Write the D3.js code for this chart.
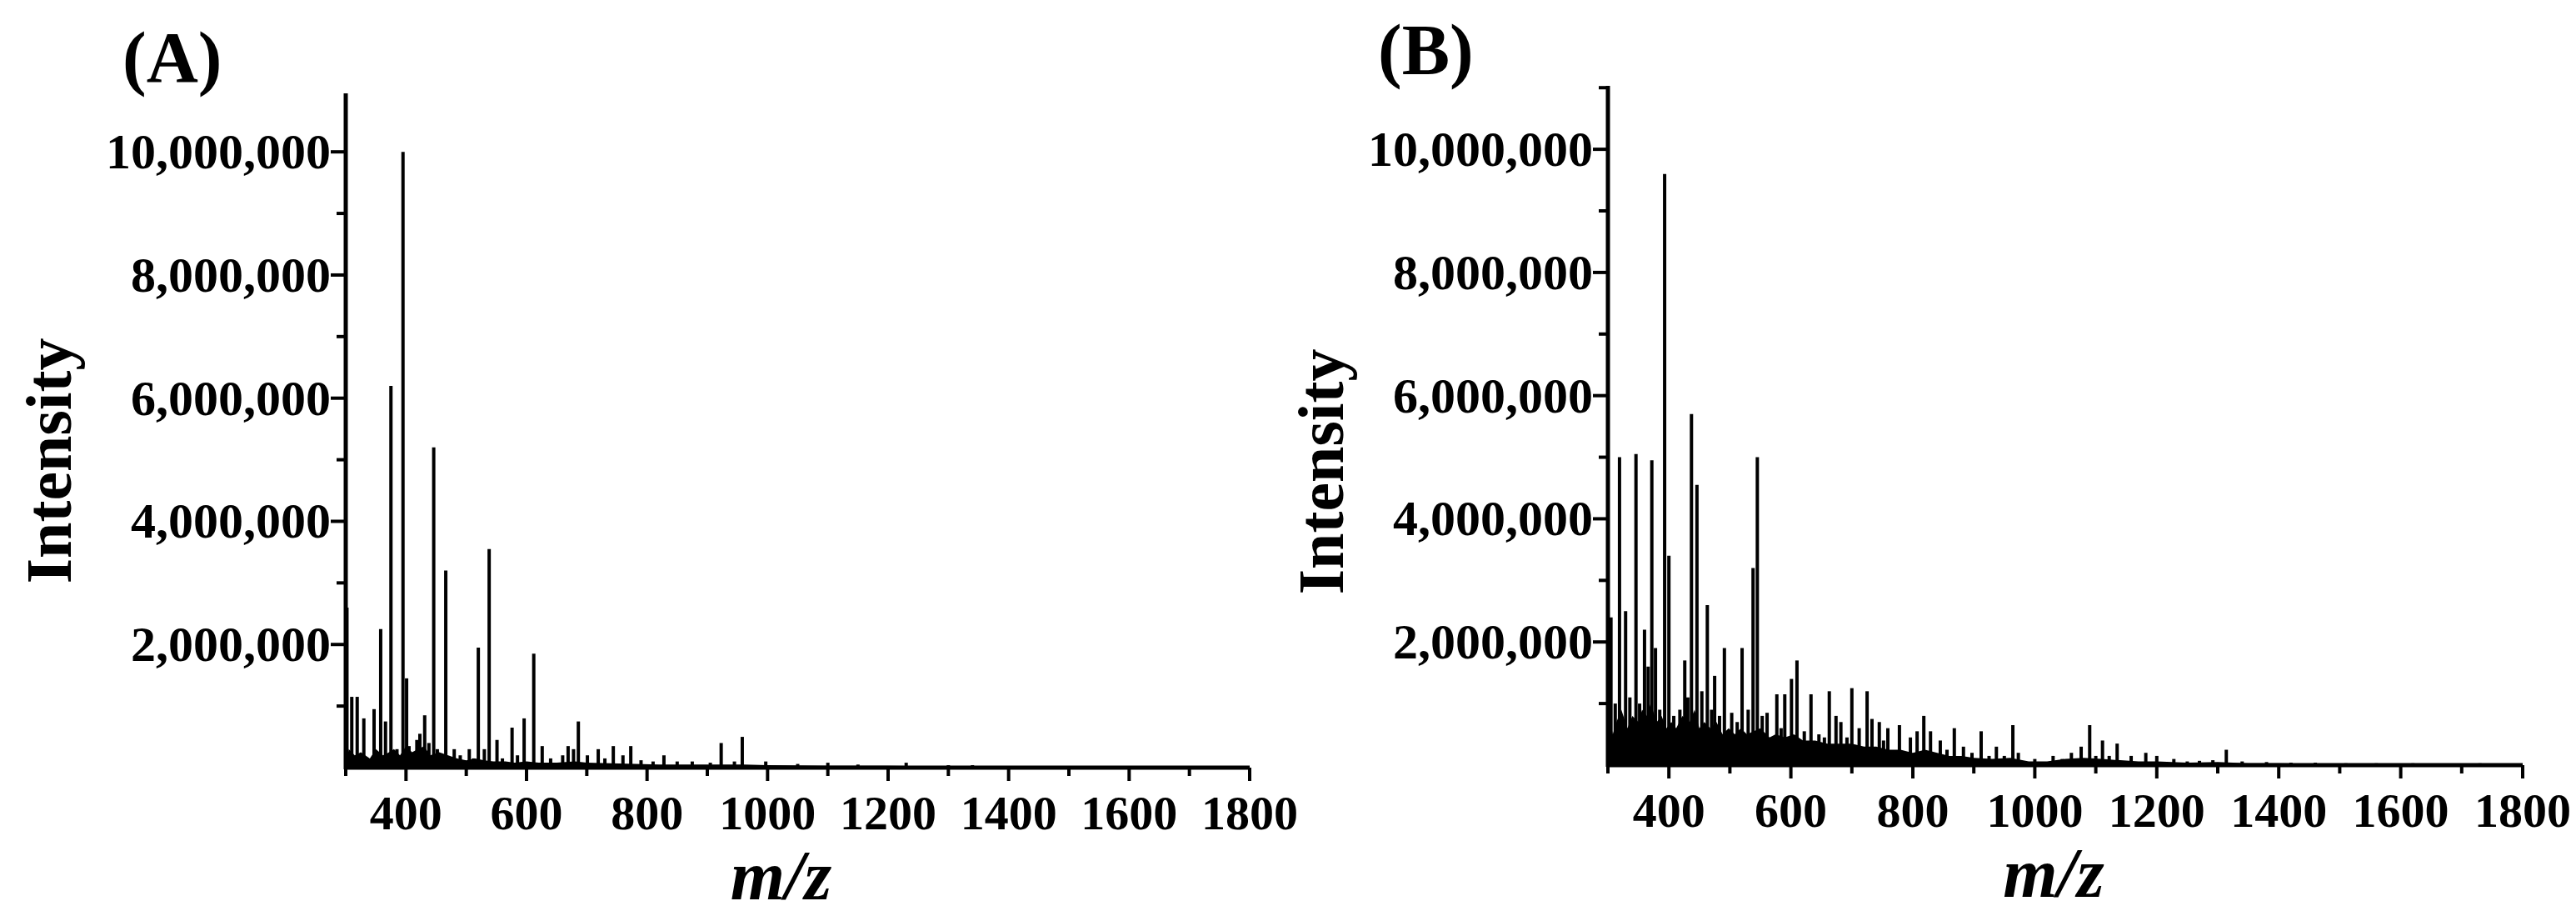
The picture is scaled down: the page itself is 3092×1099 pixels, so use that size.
<!DOCTYPE html>
<html><head><meta charset="utf-8">
<script src="https://cdn.jsdelivr.net/npm/d3@7"></script>
<style>body{margin:0;background:#fff}text{font-family:"Liberation Serif","Times New Roman",serif;font-weight:bold;fill:#000}</style>
</head><body><svg id="chart" width="3092" height="1099"></svg>
<script>
// peaks: [m/z, intensity in millions]
var peaksA = [[302,2.6],[310,1.15],[319,1.15],[330,0.8],[347,0.95],[358,2.25],[366,0.75],[375,6.2],[385,0.3],[395,10.0],[401,1.45],[405,0.35],
  [418,0.45],[423,0.55],[431,0.85],[438,0.4],[446,5.2],[452,0.3],[466,3.2],[480,0.3],[490,0.2],[505,0.3],[512,0.15],[520,1.95],[530,0.3],[538,3.55],
  [551,0.45],[560,0.15],[576,0.65],[585,0.2],[596,0.8],[612,1.85],[626,0.35],[640,0.15],[660,0.2],[669,0.35],[678,0.3],[686,0.75],[701,0.2],
  [719,0.3],[730,0.15],[744,0.35],[760,0.2],[773,0.35],[790,0.12],[810,0.1],[828,0.2],[850,0.1],[875,0.1],[905,0.08],[923,0.4],[945,0.1],[958,0.5],
  [997,0.1],[1050,0.06],[1100,0.08],[1150,0.05],[1230,0.08],[1300,0.04],[1340,0.04]];
var noiseA = [[300,0],[305,0.3],[315,0.2],[325,0.25],[340,0.15],[350,0.3],[362,0.2],[372,0.25],[380,0.3],[390,0.2],[400,0.35],[410,0.25],[420,0.3],
  [430,0.35],[440,0.2],[455,0.25],[470,0.2],[485,0.15],[500,0.12],[515,0.15],[530,0.12],[545,0.1],[565,0.1],[580,0.08],[600,0.1],[620,0.08],
  [650,0.08],[680,0.1],[700,0.08],[740,0.07],[780,0.06],[820,0.05],[870,0.05],[920,0.05],[960,0.05],[1000,0.04],[1100,0.03],[1200,0.03],
  [1300,0.02],[1400,0.01],[1500,0.01],[1800,0]];
var peaksB = [[305,2.4],[312,1.0],[319,5.0],[329,2.5],[336,1.1],[346,5.05],[352,1.0],[360,2.2],[366,1.6],[372,4.95],[378,1.9],[385,0.9],[393,9.6],
  [400,3.4],[408,0.8],[418,0.9],[426,1.7],[431,1.1],[437,5.7],[446,4.55],[454,1.2],[463,2.6],[470,0.9],[475,1.45],[483,0.8],[491,1.9],[503,0.85],
  [512,0.7],[520,1.9],[530,0.9],[538,3.2],[545,5.0],[553,0.8],[561,0.85],[577,1.15],[584,0.6],[590,1.15],[601,1.4],[610,1.7],[622,0.55],
  [633,1.15],[646,0.5],[655,0.45],[663,1.2],[674,0.8],[682,0.7],[692,0.45],[700,1.25],[712,0.6],[725,1.2],[733,0.75],[745,0.7],[752,0.4],
  [759,0.6],[778,0.65],[796,0.45],[807,0.55],[818,0.8],[829,0.55],[845,0.4],[856,0.25],[868,0.6],[883,0.3],[897,0.2],[912,0.55],[925,0.15],
  [937,0.3],[950,0.15],[964,0.65],[973,0.2],[1000,0.1],[1030,0.15],[1045,0.1],[1060,0.2],[1076,0.3],[1090,0.65],[1100,0.15],[1111,0.4],
  [1122,0.15],[1135,0.35],[1158,0.15],[1182,0.2],[1200,0.15],[1228,0.1],[1250,0.06],[1270,0.07],[1292,0.08],[1314,0.25],[1340,0.06],
  [1380,0.05],[1420,0.04],[1460,0.04],[1510,0.03],[1560,0.03],[1620,0.03],[1730,0.03]];
var noiseB = [[300,0],[302,0.8],[308,0.5],[314,0.7],[322,0.9],[332,0.6],[340,0.8],[350,0.7],[356,0.9],[364,0.8],[370,1.0],[380,0.7],[388,0.8],
  [396,0.6],[404,0.7],[412,0.6],[422,0.8],[434,0.7],[442,0.9],[450,0.6],[458,0.7],[468,0.6],[478,0.7],[488,0.5],[498,0.6],[508,0.5],[518,0.6],
  [528,0.5],[550,0.6],[565,0.45],[575,0.5],[590,0.45],[605,0.5],[620,0.4],[640,0.4],[660,0.35],[680,0.35],[700,0.35],[720,0.3],[740,0.3],
  [760,0.25],[780,0.25],[800,0.2],[820,0.25],[840,0.2],[860,0.15],[880,0.15],[900,0.12],[930,0.1],[960,0.12],[990,0.06],[1020,0.06],
  [1050,0.1],[1080,0.12],[1110,0.1],[1140,0.08],[1170,0.06],[1200,0.06],[1250,0.04],[1300,0.05],[1350,0.03],[1400,0.03],[1500,0.02],
  [1600,0.02],[1700,0.02],[1800,0]];
var xTicks = [400,600,800,1000,1200,1400,1600,1800];
var yTicks = [2,4,6,8,10];

var svg = d3.select('#chart');

function panel(label, peaks, noise, ox, oy, w, h, ymax, layout){
  var g = svg.append('g').attr('transform','translate('+ox+','+oy+')');
  var x = d3.scaleLinear().domain([300,1800]).range([0,w]);
  var y = d3.scaleLinear().domain([0,ymax]).range([0,-h]);

  g.append('path').datum(noise)
    .attr('d', d3.area().x(function(d){return x(d[0]);}).y0(0).y1(function(d){return y(d[1]);}))
    .attr('fill','#000');
  g.selectAll('line.pk').data(peaks).enter().append('line')
    .attr('x1',function(d){return x(d[0]);}).attr('x2',function(d){return x(d[0]);})
    .attr('y1',0).attr('y2',function(d){return y(d[1]);})
    .attr('stroke','#000').attr('stroke-width',4);

  // axes
  g.append('line').attr('x1',-2).attr('x2',w).attr('y1',0).attr('y2',0).attr('stroke','#000').attr('stroke-width',5);
  g.append('line').attr('x1',0).attr('x2',0).attr('y1',2).attr('y2',-h).attr('stroke','#000').attr('stroke-width',5);
  d3.range(300,1801,100).forEach(function(v){
    g.append('line').attr('x1',x(v)).attr('x2',x(v)).attr('y1',0).attr('y2',v%200===0?16:10).attr('stroke','#000').attr('stroke-width',4);
  });
  d3.range(1,12).forEach(function(v){
    if (y(v) < -h - 1) return;
    g.append('line').attr('x1',0).attr('x2',v%2===0?-18:-11).attr('y1',y(v)).attr('y2',y(v)).attr('stroke','#000').attr('stroke-width',4);
  });
  g.selectAll('text.xt').data(xTicks).enter().append('text')
    .attr('x',function(d){return x(d);}).attr('y',74).attr('text-anchor','middle').style('font-size','58px')
    .text(function(d){return d;});
  g.selectAll('text.yt').data(yTicks).enter().append('text')
    .attr('x',-18).attr('y',function(d){return y(d)+20;}).attr('text-anchor','end').style('font-size','60px')
    .text(function(d){return d3.format(',')(d*1e6);});

  g.append('text').attr('x', w/2 + layout.mz).attr('y', 158).attr('text-anchor','middle')
    .style('font-size','84px').style('font-style','italic').text('m/z');
  g.append('text').attr('transform','translate('+layout.ix+','+(-h*layout.iy)+') rotate(-90)')
    .attr('text-anchor','middle').style('font-size','78px').text('Intensity');
  g.append('text').attr('x',layout.lx).attr('y',-h-14).style('font-size','86px').text(label);
}

panel('(A)', peaksA, noiseA, 415, 921, 1085, 809, 10.95, {mz:-20, ix:-330, iy:0.455, lx:-268});
panel('(B)', peaksB, noiseB, 1930, 918, 1098, 815, 11.03, {mz:-14, ix:-318, iy:0.432, lx:-276});
</script></body></html>
